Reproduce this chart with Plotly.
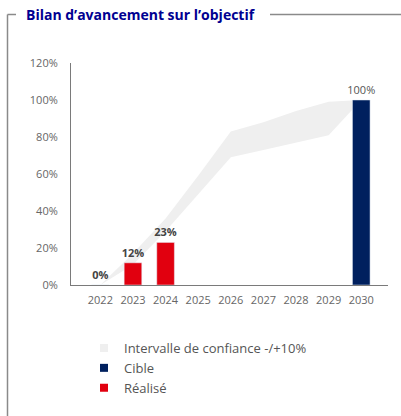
import plotly.graph_objects as go

# ---- data ----
years = [2022, 2023, 2024, 2025, 2026, 2027, 2028, 2029, 2030]
year_labels = [str(y) for y in years]
band_lower = [0, 11, 29, 49, 69, 73, 77, 81, 100]
band_upper = [0, 17, 36, 59, 83, 88, 94, 99, 100]
real_years = [2022, 2023, 2024]
real_values = [0, 12, 23]
target_years = [2030]
target_values = [100]
y_ticks = [0, 20, 40, 60, 80, 100, 120]
y_tick_labels = [f"{v}%" for v in y_ticks]

RED = "#E1000F"
NAVY = "#00205E"
BAND = "#EFEFEF"
FONT = "Open Sans"

W, H = 401, 416
PLOT_L, PLOT_R, PLOT_T, PLOT_B = 71, 388, 63, 285
ML, MR = PLOT_L, W - PLOT_R
MT, MB = PLOT_T, H - PLOT_B
PW = PLOT_R - PLOT_L
PH = PLOT_B - PLOT_T


def px_x(p):
    return (p - PLOT_L) / PW


def px_y(p):
    return (PLOT_B - p) / PH


fig = go.Figure()

# confidence band (base subplot, below bars)
fig.add_trace(go.Scatter(x=years, y=band_lower, mode="lines", line=dict(width=0),
                         showlegend=False, hoverinfo="skip"))
fig.add_trace(go.Scatter(x=years, y=band_upper, mode="lines", line=dict(width=0),
                         fill="tonexty", fillcolor=BAND, showlegend=False, hoverinfo="skip"))

# bars on overlaid axes (drawn above band)
fig.add_trace(go.Bar(x=real_years, y=real_values, marker_color=RED, width=0.54,
                     texttemplate="%{y}%", textposition="outside", cliponaxis=False,
                     constraintext="none",
                     textfont=dict(family=FONT, size=11, color="#444444", weight="bold"),
                     xaxis="x2", yaxis="y2", showlegend=False, name="Réalisé"))
fig.add_trace(go.Bar(x=target_years, y=target_values, marker_color=NAVY, width=0.54,
                     texttemplate="%{y}%", textposition="outside", cliponaxis=False,
                     constraintext="none",
                     textfont=dict(family=FONT, size=11, color="#555555"),
                     xaxis="x2", yaxis="y2", showlegend=False, name="Cible"))

# legend entries
for name, col in [("Intervalle de confiance -/+10%", BAND), ("Cible", NAVY), ("Réalisé", RED)]:
    fig.add_trace(go.Scatter(x=[None], y=[None], mode="markers", name=name,
                             marker=dict(symbol="square", size=8, color=col)))

xr = [2021.1, 2030.82]
yr = [0, 120]
fig.update_layout(
    width=W, height=H,
    margin=dict(l=ML, r=MR, t=MT, b=MB),
    paper_bgcolor="white", plot_bgcolor="white",
    font=dict(family=FONT, size=11, color="#666666"),
    barmode="overlay",
    xaxis=dict(range=xr, tickmode="array", tickvals=years, ticktext=year_labels,
               showgrid=False, zeroline=False, showline=True, linecolor="#7a7a7a", linewidth=1,
               ticks="", ticklabelstandoff=5, tickfont=dict(size=11, color="#666666")),
    yaxis=dict(range=yr, tickmode="array", tickvals=y_ticks, ticktext=y_tick_labels,
               showgrid=False, zeroline=False, showline=True, linecolor="#7a7a7a", linewidth=1,
               ticks="", ticklabelstandoff=10, tickfont=dict(size=11, color="#666666")),
    xaxis2=dict(range=xr, overlaying="x", visible=False),
    yaxis2=dict(range=yr, overlaying="y", visible=False),
    showlegend=True,
    legend=dict(x=px_x(84), xanchor="left", y=px_y(333), yanchor="top",
                font=dict(family=FONT, size=13, color="#555555"),
                bgcolor="rgba(0,0,0,0)", traceorder="normal"),
)

# frame (fieldset-like)
line = dict(color="#8a8a8a", width=1.5)
FX = 7.5
FY = 14.5
fig.add_shape(type="line", xref="paper", yref="paper", x0=px_x(FX), x1=px_x(FX),
              y0=px_y(FY), y1=px_y(430), line=line)
fig.add_shape(type="line", xref="paper", yref="paper", x0=px_x(FX), x1=px_x(16),
              y0=px_y(FY), y1=px_y(FY), line=line)
fig.add_shape(type="line", xref="paper", yref="paper", x0=px_x(270), x1=px_x(410),
              y0=px_y(FY), y1=px_y(FY), line=line)

fig.add_annotation(text="<b>Bilan d’avancement sur l’objectif</b>", xref="paper", yref="paper",
                   x=px_x(26), y=px_y(FY), xanchor="left", yanchor="middle", showarrow=False,
                   borderpad=0, borderwidth=0,
                   font=dict(family=FONT, size=14, color="#000091"))

fig.write_html("out.html", config={"displayModeBar": False},
               post_script="document.body.style.margin='0';")
